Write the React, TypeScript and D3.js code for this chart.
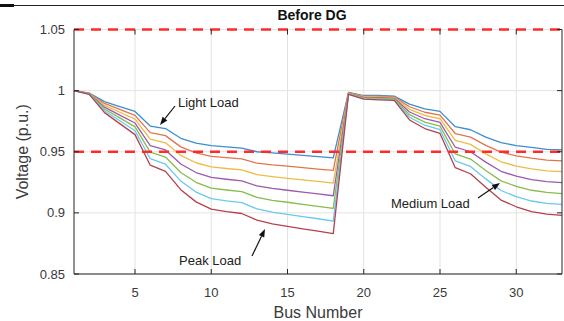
import React from "react";
import * as d3 from "d3";

const buses = d3.range(1, 34);
const lightLoad = [1.0, 0.998, 0.991, 0.987, 0.983, 0.971, 0.969, 0.961, 0.957, 0.955, 0.954, 0.953, 0.950, 0.949, 0.948, 0.947, 0.946, 0.945, 0.9985, 0.996, 0.996, 0.9955, 0.989, 0.985, 0.983, 0.9705, 0.968, 0.962, 0.9575, 0.955, 0.9535, 0.952, 0.9515];
const load2 = [1.0, 0.9978, 0.9895, 0.9847, 0.9798, 0.9657, 0.9632, 0.954, 0.949, 0.9463, 0.9452, 0.9441, 0.9407, 0.9393, 0.9382, 0.937, 0.9358, 0.9347, 0.9983, 0.9955, 0.9954, 0.9949, 0.9868, 0.9823, 0.980, 0.9649, 0.962, 0.9552, 0.9497, 0.9467, 0.9447, 0.9432, 0.9426];
const load3 = [1.0, 0.9977, 0.988, 0.9823, 0.9767, 0.9603, 0.9573, 0.947, 0.941, 0.9377, 0.9363, 0.9352, 0.9313, 0.9297, 0.9283, 0.927, 0.9257, 0.9243, 0.998, 0.995, 0.9948, 0.9943, 0.9847, 0.9797, 0.977, 0.9593, 0.956, 0.9483, 0.9418, 0.9383, 0.936, 0.9343, 0.9337];
const mediumLoad = [1.0, 0.9975, 0.9865, 0.980, 0.9735, 0.955, 0.9515, 0.940, 0.933, 0.929, 0.9275, 0.9262, 0.922, 0.920, 0.9185, 0.917, 0.9155, 0.914, 0.9978, 0.9945, 0.9942, 0.9937, 0.9825, 0.977, 0.974, 0.9537, 0.950, 0.9415, 0.934, 0.930, 0.9272, 0.9255, 0.9247];
const load5 = [1.0, 0.9973, 0.985, 0.9777, 0.9703, 0.9497, 0.9457, 0.933, 0.925, 0.9203, 0.9187, 0.9173, 0.9127, 0.9103, 0.9087, 0.907, 0.9053, 0.9037, 0.9975, 0.994, 0.9937, 0.9932, 0.9803, 0.9743, 0.971, 0.9482, 0.944, 0.9347, 0.9262, 0.9217, 0.9185, 0.9167, 0.9158];
const load6 = [1.0, 0.9972, 0.9835, 0.9753, 0.9672, 0.9443, 0.9398, 0.926, 0.917, 0.9117, 0.9098, 0.9084, 0.9033, 0.9007, 0.8988, 0.897, 0.8952, 0.8933, 0.9973, 0.9935, 0.9931, 0.9926, 0.9782, 0.9717, 0.968, 0.9426, 0.938, 0.9278, 0.9183, 0.9133, 0.9097, 0.9078, 0.9069];
const peakLoad = [1.0, 0.997, 0.982, 0.973, 0.964, 0.939, 0.934, 0.919, 0.909, 0.903, 0.901, 0.8995, 0.894, 0.891, 0.889, 0.887, 0.885, 0.883, 0.997, 0.993, 0.9925, 0.992, 0.976, 0.969, 0.965, 0.937, 0.932, 0.921, 0.9105, 0.905, 0.901, 0.899, 0.898];

const seriesList = [lightLoad, load2, load3, mediumLoad, load5, load6, peakLoad];
const colors = ["#3b8ed0", "#e2744c", "#efbb48", "#9c5aab", "#86bd4c", "#68c9ef", "#b6404f"];

const xTicks = [5, 10, 15, 20, 25, 30];
const yTicks = [0.85, 0.9, 0.95, 1, 1.05];
const yTickLabels = ["0.85", "0.9", "0.95", "1", "1.05"];
const limits = [0.95, 1.05];

const W = 564, H = 321;
const left = 74, right = 562, top = 29.5, bottom = 274;

const font = "Arial, 'Liberation Sans', Helvetica, sans-serif";
const textColor = "#3a3a3a";

function Arrow({ x1, y1, x2, y2 }: { x1: number; y1: number; x2: number; y2: number }) {
  const ang = Math.atan2(y2 - y1, x2 - x1);
  const L = 8, Wd = 3;
  const bx = x2 - L * Math.cos(ang), by = y2 - L * Math.sin(ang);
  const px = -Math.sin(ang) * Wd, py = Math.cos(ang) * Wd;
  return (
    <g>
      <line x1={x1} y1={y1} x2={bx} y2={by} stroke="#111" strokeWidth={1.2} />
      <polygon points={`${x2},${y2} ${bx + px},${by + py} ${bx - px},${by - py}`} fill="#111" />
    </g>
  );
}

export default function App() {
  const x = d3.scaleLinear().domain([1, 33]).range([left, right]);
  const y = d3.scaleLinear().domain([0.85, 1.05]).range([bottom, top]);
  const line = d3.line<number>().x((_, i) => x(buses[i])).y((v) => y(v));

  return (
    <svg width={W} height={H} style={{ position: "absolute", left: 0, top: 0, background: "#fff" }}>
      <rect x={0} y={0} width={W} height={H} fill="#fff" />
      <line x1={0} x2={W} y1={5.5} y2={5.5} stroke="#222" strokeWidth={1} />
      <rect x={0} y={4} width={14} height={3} fill="#111" />
      {/* grid */}
      {xTicks.map((t) => (
        <line key={"gx" + t} x1={x(t)} x2={x(t)} y1={top} y2={bottom} stroke="#e3e3e3" strokeWidth={1} />
      ))}
      {yTicks.map((t) => (
        <line key={"gy" + t} x1={left} x2={right} y1={y(t)} y2={y(t)} stroke="#e3e3e3" strokeWidth={1} />
      ))}
      {/* series */}
      {seriesList.map((s, i) => (
        <path key={i} d={line(s) || ""} fill="none" stroke={colors[i]} strokeWidth={1.3} strokeLinejoin="round" />
      ))}
      {/* limits */}
      {limits.map((l) => (
        <line key={"l" + l} x1={left} x2={right} y1={y(l)} y2={y(l)} stroke="#ff2b2b" strokeWidth={2.5} strokeDasharray="10,7" />
      ))}
      {/* axes box */}
      <line x1={left} x2={left} y1={top} y2={bottom} stroke="#262626" strokeWidth={1} />
      <line x1={right} x2={right} y1={top} y2={bottom} stroke="#262626" strokeWidth={1} />
      <line x1={left} x2={right} y1={bottom} y2={bottom} stroke="#262626" strokeWidth={1} />
      {xTicks.map((t) => (
        <g key={"tx" + t}>
          <line x1={x(t)} x2={x(t)} y1={bottom} y2={bottom - 5} stroke="#262626" />
          <line x1={x(t)} x2={x(t)} y1={top} y2={top + 5} stroke="#262626" />
          <text x={x(t)} y={297} textAnchor="middle" fontFamily={font} fontSize={13} fill={textColor}>{t}</text>
        </g>
      ))}
      {yTicks.map((t, i) => (
        <g key={"ty" + t}>
          <line x1={left} x2={left + 5} y1={y(t)} y2={y(t)} stroke="#262626" />
          <line x1={right} x2={right - 5} y1={y(t)} y2={y(t)} stroke="#262626" />
          <text x={65} y={y(t) + 4.6} textAnchor="end" fontFamily={font} fontSize={13} fill={textColor}>{yTickLabels[i]}</text>
        </g>
      ))}
      {/* labels */}
      <text x={318} y={318} textAnchor="middle" fontFamily={font} fontSize={16} fill={textColor}>Bus Number</text>
      <text transform={`translate(28, ${(top + bottom) / 2}) rotate(-90)`} textAnchor="middle" fontFamily={font} fontSize={16} fill={textColor}>Voltage (p.u.)</text>
      <text x={312} y={20} textAnchor="middle" fontFamily={font} fontSize={14} fontWeight="bold" fill="#111">Before DG</text>
      {/* annotations */}
      <text x={178} y={106.5} fontFamily={font} fontSize={13} fill="#222">Light Load</text>
      <Arrow x1={175} y1={106} x2={160} y2={125} />
      <text x={179} y={265} fontFamily={font} fontSize={13} fill="#222">Peak Load</text>
      <Arrow x1={252} y1={256} x2={265} y2={229} />
      <text x={391} y={208} fontFamily={font} fontSize={13} fill="#222">Medium Load</text>
      <Arrow x1={478} y1={198} x2={500} y2={183} />
    </svg>
  );
}
